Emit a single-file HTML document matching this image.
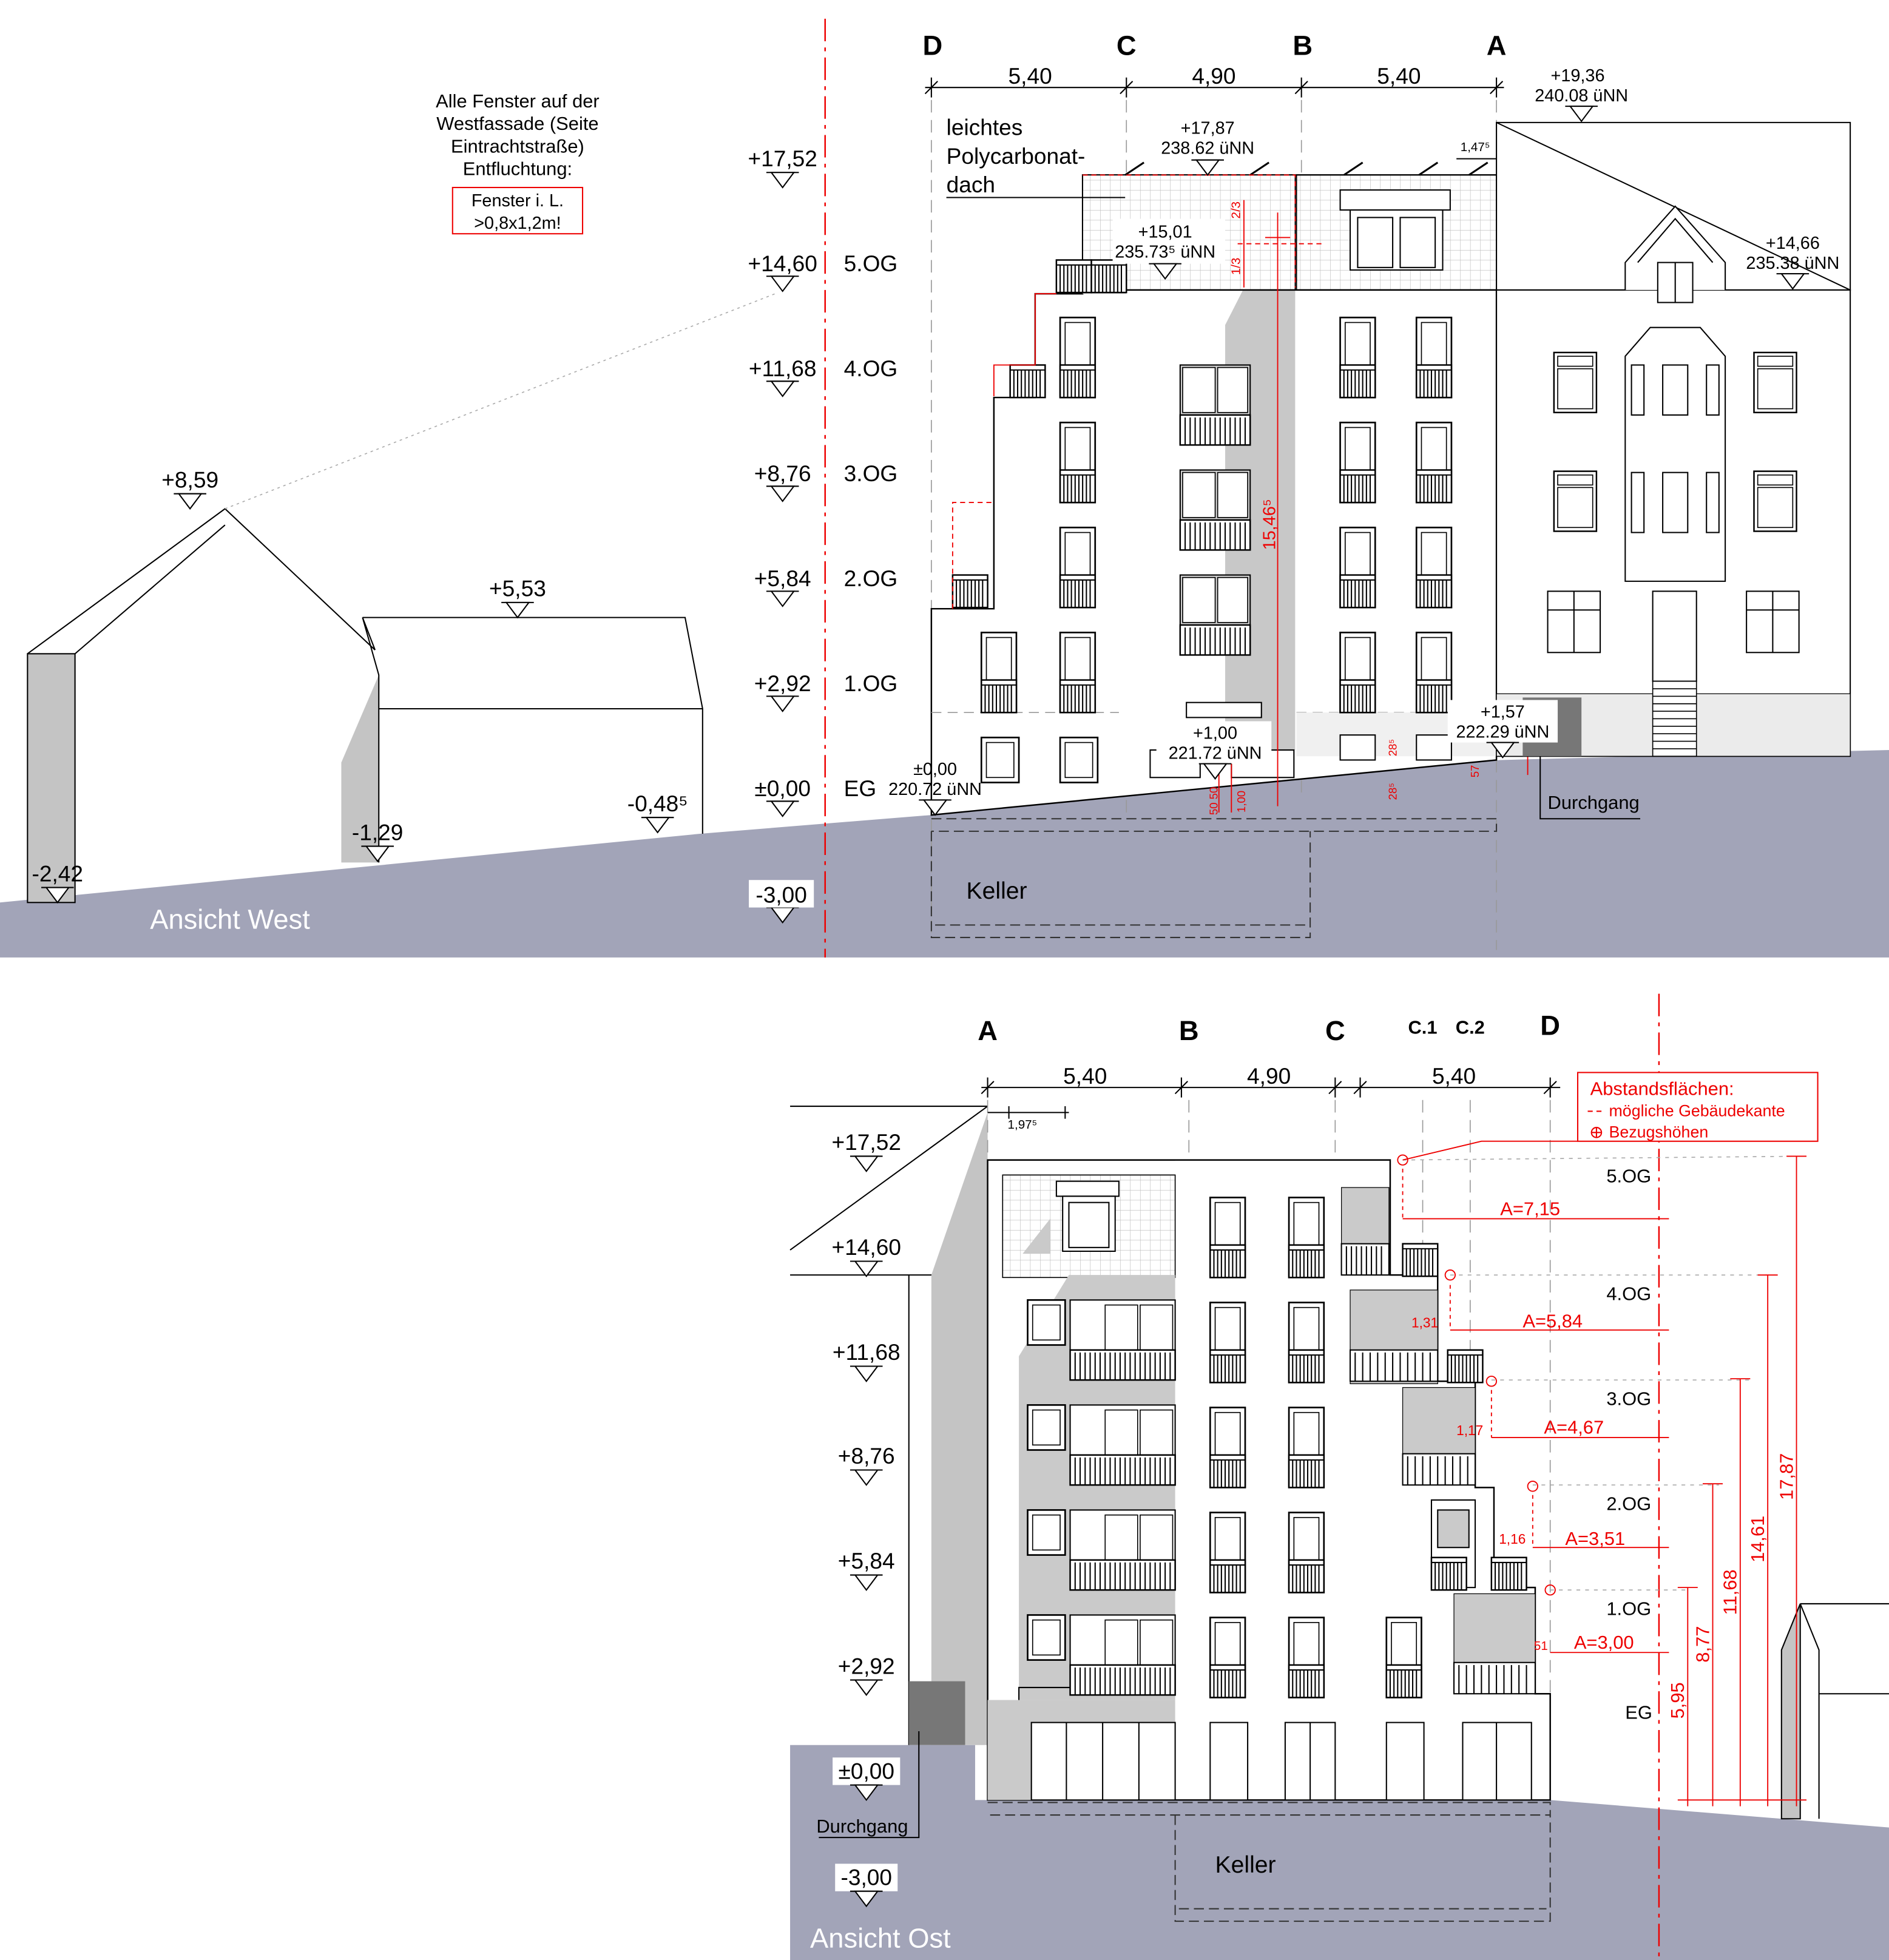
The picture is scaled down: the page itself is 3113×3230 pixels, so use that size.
<!DOCTYPE html>
<html><head><meta charset="utf-8"><style>
html,body{margin:0;padding:0;background:#fff}
svg{display:block}
text{font-family:"Liberation Sans",sans-serif}
</style></head><body>
<svg width="3113" height="3230" viewBox="0 0 1511 1568" preserveAspectRatio="none" xmlns="http://www.w3.org/2000/svg">
<defs>
<g id="lv"><line x1="-13" y1="0" x2="13" y2="0" stroke="#000" stroke-width="1"/><path d="M-9,0 L9,0 L0,12 Z" fill="#fff" stroke="#000" stroke-width="1"/></g>
<g id="rail"><rect x="0" y="0" width="28" height="26" fill="#fff" stroke="#000" stroke-width="1.2"/><path d="M3,4V26M6,4V26M9,4V26M12,4V26M15,4V26M18,4V26M21,4V26M24,4V26M0,4H28" stroke="#000" stroke-width="1"/></g>
<g id="win"><rect x="0" y="0" width="28" height="64" fill="#fff" stroke="#000" stroke-width="1.3"/><rect x="4" y="4" width="20" height="34" fill="#fff" stroke="#000" stroke-width="0.8"/><use href="#rail" y="38"/></g>
<g id="bal"><rect x="0" y="0" width="56" height="64" fill="#d0d0d0" stroke="#000" stroke-width="1"/><rect x="2" y="2" width="26" height="36" fill="#fff" stroke="#000" stroke-width="0.8"/><rect x="30" y="2" width="24" height="36" fill="#fff" stroke="#000" stroke-width="0.8"/><rect x="0" y="40" width="56" height="24" fill="#fff" stroke="#000" stroke-width="1.2"/><path d="M4,42V64M8,42V64M12,42V64M16,42V64M20,42V64M24,42V64M28,42V64M32,42V64M36,42V64M40,42V64M44,42V64M48,42V64M52,42V64" stroke="#000" stroke-width="1"/></g>
<g id="bal2"><rect x="0" y="0" width="84" height="64" fill="#fff" stroke="#000" stroke-width="1"/><rect x="28" y="4" width="26" height="36" fill="#fff" stroke="#000" stroke-width="0.8"/><rect x="56" y="4" width="26" height="36" fill="#fff" stroke="#000" stroke-width="0.8"/><rect x="0" y="40" width="84" height="24" fill="#fff" stroke="#000" stroke-width="1.2"/><path d="M4,42V64M8,42V64M12,42V64M16,42V64M20,42V64M24,42V64M28,42V64M32,42V64M36,42V64M40,42V64M44,42V64M48,42V64M52,42V64M56,42V64M60,42V64M64,42V64M68,42V64M72,42V64M76,42V64M80,42V64" stroke="#000" stroke-width="1"/></g>
<g id="sw"><rect x="0" y="0" width="30" height="36" fill="#fff" stroke="#000" stroke-width="1.3"/><rect x="4" y="4" width="22" height="28" fill="#fff" stroke="#000" stroke-width="0.8"/></g>
<g id="ow"><rect x="0" y="0" width="34" height="48" fill="#fff" stroke="#000" stroke-width="1.2"/><rect x="3" y="3" width="28" height="8" fill="none" stroke="#000" stroke-width="0.8"/><rect x="3" y="13" width="28" height="32" fill="none" stroke="#000" stroke-width="0.8"/></g>
<pattern id="grid" width="8" height="8" patternUnits="userSpaceOnUse"><rect width="8" height="8" fill="#fff"/><path d="M0,0H8M0,0V8" stroke="#bbb" stroke-width="0.6"/></pattern>
</defs>

<path d="M0,722 L560,667 L745,652 L1200,608 L1511,600 L1511,766 L0,766 Z" fill="#a2a4b8"/>
<rect x="22" y="523" width="38" height="199" fill="#c4c4c4" stroke="#000" stroke-width="1"/>
<path d="M22,523 L180,407 L300,520 M60,523 L180,420" fill="none" stroke="#000" stroke-width="1"/>
<line x1="180" y1="407" x2="620" y2="235" stroke="#aaa" stroke-width="0.8" stroke-dasharray="2,3"/>
<path d="M273,690 L273,610 L303,540 L303,690 Z" fill="#c4c4c4"/>
<path d="M290,494 L548,494 L562,567 L562,667 M290,494 L303,540 L303,690 M303,567 L562,567" fill="none" stroke="#000" stroke-width="1"/>
<path d="M290,494 L300,520" stroke="#000"/>
<use href="#lv" x="152" y="395"/><text x="152" y="390" font-size="18" text-anchor="middle">+8,59</text>
<use href="#lv" x="414" y="482"/><text x="414" y="477" font-size="18" text-anchor="middle">+5,53</text>
<use href="#lv" x="302" y="677"/><text x="302" y="672" font-size="18" text-anchor="middle">-1,29</text>
<use href="#lv" x="526" y="654"/><text x="526" y="649" font-size="18" text-anchor="middle">-0,48⁵</text>
<use href="#lv" x="46" y="710"/><text x="46" y="705" font-size="18" text-anchor="middle">-2,42</text>
<text x="120" y="743" font-size="22" fill="#fff">Ansicht West</text>
<text x="414" y="86" font-size="15" text-anchor="middle">Alle Fenster auf der</text>
<text x="414" y="104" font-size="15" text-anchor="middle">Westfassade (Seite</text>
<text x="414" y="122" font-size="15" text-anchor="middle">Eintrachtstraße)</text>
<text x="414" y="140" font-size="15" text-anchor="middle">Entfluchtung:</text>
<rect x="362" y="150" width="104" height="37" fill="none" stroke="#e00" stroke-width="1"/>
<text x="414" y="165" font-size="14" text-anchor="middle">Fenster i. L.</text>
<text x="414" y="183" font-size="14" text-anchor="middle">&gt;0,8x1,2m!</text>
<g font-size="18" text-anchor="middle">
<use href="#lv" x="626" y="138"/><text x="626" y="133">+17,52</text>
<use href="#lv" x="626" y="221"/><text x="626" y="217">+14,60</text>
<use href="#lv" x="626" y="305"/><text x="626" y="301">+11,68</text>
<use href="#lv" x="626" y="389"/><text x="626" y="385">+8,76</text>
<use href="#lv" x="626" y="473"/><text x="626" y="469">+5,84</text>
<use href="#lv" x="626" y="557"/><text x="626" y="553">+2,92</text>
<use href="#lv" x="626" y="641"/><text x="626" y="637">±0,00</text>
<use href="#lv" x="626" y="726"/><rect x="599" y="704" width="52" height="22" fill="#fff"/><text x="625" y="722">-3,00</text>
</g>
<g font-size="18">
<text x="675" y="217">5.OG</text><text x="675" y="301">4.OG</text><text x="675" y="385">3.OG</text>
<text x="675" y="469">2.OG</text><text x="675" y="553">1.OG</text><text x="675" y="637">EG</text>
</g>
<line x1="660" y1="15" x2="660" y2="766" stroke="#e00" stroke-width="1.2" stroke-dasharray="18,5,3,5"/>
<g font-size="22" font-weight="bold" text-anchor="middle">
<text x="746" y="44">D</text><text x="901" y="44">C</text><text x="1042" y="44">B</text><text x="1197" y="44">A</text></g>
<path d="M740,70 H1203" stroke="#000"/>
<path d="M745,62V78M901,62V78M1041,62V78M1197,62V78M740,75L750,65M896,75L906,65M1036,75L1046,65M1192,75L1202,65" stroke="#000"/>
<g font-size="18" text-anchor="middle"><text x="824" y="67">5,40</text><text x="971" y="67">4,90</text><text x="1119" y="67">5,40</text></g>
<g stroke="#999" stroke-dasharray="10,6" stroke-width="0.8"><line x1="745" y1="80" x2="745" y2="750"/><line x1="901" y1="80" x2="901" y2="650"/><line x1="1041" y1="80" x2="1041" y2="640"/><line x1="1197" y1="80" x2="1197" y2="760"/></g>
<path d="M745,652 V487 H795 V318 H828 V235 H866 V140 H1197 V608 L745,652 Z" fill="#fff" stroke="#000" stroke-width="1.2"/>
<path d="M901,140 L866,200 L866,235 L901,235 Z" fill="#c8c8c8"/>
<path d="M1036,150 L1036,600 L980,600 L980,260 Z" fill="#c8c8c8"/>
<rect x="1037" y="140" width="160" height="92" fill="url(#grid)" stroke="#000"/>
<rect x="866" y="140" width="170" height="92" fill="url(#grid)" stroke="#000" stroke-width="0.8"/>
<path d="M866,232 H1197" stroke="#000" stroke-width="1.2"/>
<rect x="1072" y="152" width="88" height="16" fill="#fff" stroke="#000"/>
<rect x="1080" y="168" width="74" height="48" fill="#fff" stroke="#000"/><rect x="1086" y="174" width="28" height="40" fill="none" stroke="#000"/><rect x="1120" y="174" width="28" height="40" fill="none" stroke="#000"/>
<path d="M1075,140L1090,130M1135,140L1150,130M1175,140L1190,130M900,140L915,130M1000,140L1015,130" stroke="#000" stroke-width="1.5"/>
<g stroke="#999" stroke-dasharray="8,5" stroke-width="0.8"><line x1="745" y1="570" x2="895" y2="570"/><line x1="1037" y1="570" x2="1197" y2="570"/></g>
<rect x="1037" y="570" width="160" height="35" fill="#f0f0f0"/>
<use href="#rail" x="845" y="208"/><use href="#rail" x="873" y="208"/>
<use href="#rail" x="808" y="292"/>
<use href="#rail" x="762" y="460"/>
<use href="#win" x="848" y="254"/><use href="#win" x="848" y="338"/><use href="#win" x="848" y="422"/><use href="#win" x="848" y="506"/>
<use href="#win" x="785" y="506"/>
<use href="#sw" x="785" y="590"/><use href="#sw" x="848" y="590"/>
<use href="#bal" x="944" y="292"/><use href="#bal" x="944" y="376"/><use href="#bal" x="944" y="460"/>
<rect x="949" y="562" width="60" height="12" fill="#fff" stroke="#000"/>
<rect x="920" y="600" width="40" height="22" fill="#fff" stroke="#000"/><rect x="985" y="600" width="50" height="22" fill="#fff" stroke="#000"/>
<use href="#win" x="1072" y="254"/><use href="#win" x="1133" y="254"/>
<use href="#win" x="1072" y="338"/><use href="#win" x="1133" y="338"/>
<use href="#win" x="1072" y="422"/><use href="#win" x="1133" y="422"/>
<use href="#win" x="1072" y="506"/><use href="#win" x="1133" y="506"/>
<rect x="1072" y="588" width="28" height="20" fill="#fff" stroke="#000"/><rect x="1133" y="588" width="28" height="20" fill="#fff" stroke="#000"/>
<g stroke="#e00" fill="none" stroke-width="0.9">
<path d="M795,317 V292 L828,292 V235 L845,235"/>
<path d="M866,140 H1036 V230" stroke-dasharray="4,3"/>
<path d="M762,487 V402 H795" stroke-dasharray="4,3"/>
<line x1="1022" y1="170" x2="1022" y2="645"/><line x1="1222" y1="190" x2="1222" y2="620"/>
<line x1="1012" y1="190" x2="1032" y2="190"/><line x1="1212" y1="190" x2="1232" y2="190"/>
<line x1="995" y1="160" x2="995" y2="230"/><line x1="1250" y1="160" x2="1250" y2="230"/>
<line x1="990" y1="195" x2="1060" y2="195" stroke-dasharray="4,3"/><line x1="1230" y1="195" x2="1270" y2="195" stroke-dasharray="4,3"/>
<line x1="985" y1="610" x2="985" y2="650"/><line x1="975" y1="610" x2="975" y2="650"/>
</g>
<g fill="#e00" font-size="14">
<text transform="translate(1020,440) rotate(-90)">15,46⁵</text>
<text transform="translate(1218,425) rotate(-90)">14,68</text>
<text transform="translate(992,175) rotate(-90)" font-size="10">2/3</text>
<text transform="translate(992,220) rotate(-90)" font-size="10">1/3</text>
<text transform="translate(1246,175) rotate(-90)" font-size="10">2/3</text>
<text transform="translate(1246,220) rotate(-90)" font-size="10">1/3</text>
<text transform="translate(974,652) rotate(-90)" font-size="9">50 50</text>
<text transform="translate(996,650) rotate(-90)" font-size="9">1,00</text>
<text transform="translate(1117,640) rotate(-90)" font-size="9">28⁵</text>
<text transform="translate(1117,605) rotate(-90)" font-size="9">28⁵</text>
<text transform="translate(1183,622) rotate(-90)" font-size="9">57</text>
</g>
<g font-size="18"><text x="757" y="108">leichtes</text><text x="757" y="131">Polycarbonat-</text><text x="757" y="154">dach</text></g>
<line x1="757" y1="158" x2="900" y2="158" stroke="#000"/>
<g font-size="14" text-anchor="middle">
<text x="966" y="107">+17,87</text><text x="966" y="123">238.62 üNN</text><use href="#lv" x="966" y="128"/>
<rect x="890" y="175" width="90" height="36" fill="#fff"/><text x="932" y="190">+15,01</text><text x="932" y="206">235.73⁵ üNN</text><use href="#lv" x="932" y="211"/>
<rect x="925" y="577" width="92" height="34" fill="#fff"/><text x="972" y="591">+1,00</text><text x="972" y="607">221.72 üNN</text><use href="#lv" x="972" y="611"/>
<text x="748" y="620">±0,00</text><text x="748" y="636">220.72 üNN</text><use href="#lv" x="748" y="640"/>
<text x="1262" y="65">+19,36</text><text x="1265" y="81">240.08 üNN</text><use href="#lv" x="1265" y="85"/>
<text x="1180" y="121" font-size="10">1,47⁵</text>
</g>
<path d="M1165,127 H1200" stroke="#000"/>
<path d="M1197,98 H1480 V232 H1197 Z" fill="#fff" stroke="#000"/>
<path d="M1197,98 L1480,232" stroke="#000"/>
<rect x="1197" y="232" width="283" height="373" fill="#fff" stroke="#000"/>
<rect x="1197" y="555" width="283" height="50" fill="#ebebeb" stroke="#000" stroke-width="0.6"/>
<rect x="1218" y="558" width="47" height="47" fill="#777"/>
<path d="M1300,232 V210 L1340,165 L1380,210 V232 M1310,210 L1340,175 L1370,210" fill="#fff" stroke="#000"/>
<rect x="1326" y="210" width="28" height="32" fill="#fff" stroke="#000"/><line x1="1340" y1="210" x2="1340" y2="242" stroke="#000"/>
<path d="M1300,285 L1320,262 H1360 L1380,285 V465 H1300 Z" fill="#fff" stroke="#000"/>
<rect x="1305" y="292" width="10" height="40" fill="none" stroke="#000"/><rect x="1330" y="292" width="20" height="40" fill="none" stroke="#000"/><rect x="1365" y="292" width="10" height="40" fill="none" stroke="#000"/>
<rect x="1305" y="378" width="10" height="48" fill="none" stroke="#000"/><rect x="1330" y="378" width="20" height="48" fill="none" stroke="#000"/><rect x="1365" y="378" width="10" height="48" fill="none" stroke="#000"/>
<use href="#ow" x="1243" y="282"/><use href="#ow" x="1403" y="282"/><use href="#ow" x="1243" y="377"/><use href="#ow" x="1403" y="377"/>
<rect x="1238" y="473" width="42" height="49" fill="#fff" stroke="#000"/><path d="M1259,473V522M1238,488H1280" stroke="#000"/>
<rect x="1397" y="473" width="42" height="49" fill="#fff" stroke="#000"/><path d="M1418,473V522M1397,488H1439" stroke="#000"/>
<rect x="1322" y="473" width="35" height="72" fill="#fff" stroke="#000"/>
<g stroke="#000" stroke-width="0.8"><rect x="1322" y="545" width="35" height="60" fill="#fff"/><path d="M1322,551H1357M1322,557H1357M1322,563H1357M1322,569H1357M1322,575H1357M1322,581H1357M1322,587H1357M1322,593H1357M1322,599H1357"/></g>
<path d="M1232,605 V655 H1312" fill="none" stroke="#000"/>
<text x="1238" y="647" font-size="15">Durchgang</text>
<g font-size="14" text-anchor="middle">
<text x="1434" y="199">+14,66</text><text x="1434" y="215">235.38 üNN</text><use href="#lv" x="1434" y="219"/>
<rect x="1158" y="560" width="88" height="34" fill="#fff"/><text x="1202" y="574">+1,57</text><text x="1202" y="590">222.29 üNN</text><use href="#lv" x="1202" y="594"/>
</g>
<g fill="none" stroke="#333" stroke-dasharray="8,4" stroke-width="1">
<path d="M745,655 H1197 V665 H745"/><path d="M745,665 V750 H1048 V665"/><path d="M748,740 H1045"/></g>
<text x="773" y="719" font-size="19">Keller</text>

<path d="M632,1396 H780 V1440 L1240,1440 L1511,1462 V1568 H632 Z" fill="#a2a4b8"/>
<path d="M632,885 H790 M632,1000 L790,885 M632,1020 H790 M727,1020 V1396" fill="none" stroke="#000"/>
<path d="M745,1396 V1020 L790,890 V1396 Z" fill="#c4c4c4"/>
<rect x="727" y="1345" width="45" height="51" fill="#777"/>
<path d="M735,1385 V1470 H655" fill="none" stroke="#000"/>
<text x="653" y="1466" font-size="15">Durchgang</text>
<text x="648" y="1558" font-size="22" fill="#fff">Ansicht Ost</text>
<g font-size="18" text-anchor="middle">
<use href="#lv" x="693" y="925"/><text x="693" y="920">+17,52</text>
<use href="#lv" x="693" y="1009"/><text x="693" y="1004">+14,60</text>
<use href="#lv" x="693" y="1093"/><text x="693" y="1088">+11,68</text>
<use href="#lv" x="693" y="1176"/><text x="693" y="1171">+8,76</text>
<use href="#lv" x="693" y="1260"/><text x="693" y="1255">+5,84</text>
<use href="#lv" x="693" y="1344"/><text x="693" y="1339">+2,92</text>
<rect x="666" y="1406" width="54" height="22" fill="#fff"/><use href="#lv" x="693" y="1428"/><text x="693" y="1423">±0,00</text>
<rect x="668" y="1491" width="50" height="22" fill="#fff"/><use href="#lv" x="693" y="1513"/><text x="693" y="1508">-3,00</text>
</g>
<g font-size="22" font-weight="bold" text-anchor="middle">
<text x="790" y="832">A</text><text x="951" y="832">B</text><text x="1068" y="832">C</text><text x="1240" y="828">D</text>
<text x="1138" y="827" font-size="15">C.1</text><text x="1176" y="827" font-size="15">C.2</text></g>
<path d="M785,870 H1248" stroke="#000"/>
<path d="M790,862V878M945,862V878M1068,862V878M1088,862V878M1240,862V878M785,875L795,865M940,875L950,865M1063,875L1073,865M1083,875L1093,865M1235,875L1245,865" stroke="#000"/>
<g font-size="18" text-anchor="middle"><text x="868" y="867">5,40</text><text x="1015" y="867">4,90</text><text x="1163" y="867">5,40</text></g>
<g stroke="#999" stroke-dasharray="10,6" stroke-width="0.8"><line x1="790" y1="880" x2="790" y2="1440"/><line x1="951" y1="880" x2="951" y2="1440"/><line x1="1068" y1="880" x2="1068" y2="1440"/><line x1="1138" y1="880" x2="1138" y2="1440"/><line x1="1176" y1="880" x2="1176" y2="1440"/><line x1="1240" y1="880" x2="1240" y2="1440"/></g>
<path d="M790,890 H855 M807,885V895M852,885V895" stroke="#000"/><text x="806" y="903" font-size="10">1,97⁵</text>
<path d="M790,1440 V928 H1112 V1020 H1150 V1105 H1180 V1190 H1195 V1270 H1228 V1355 H1240 V1440 Z" fill="#fff" stroke="#000" stroke-width="1.2"/>
<rect x="802" y="940" width="138" height="82" fill="url(#grid)" stroke="#000" stroke-width="0.8"/>
<path d="M790,928 H940" stroke="#000"/>
<path d="M815,1085 L855,1020 H940 V1360 H815 Z" fill="#cacaca"/>
<rect x="845" y="945" width="50" height="12" fill="#fff" stroke="#000"/>
<rect x="850" y="957" width="42" height="44" fill="#fff" stroke="#000"/><rect x="855" y="962" width="32" height="36" fill="#fff" stroke="#000"/>
<path d="M818,1003 L840,975 V1003 Z" fill="#cacaca"/>
<rect x="790" y="1360" width="150" height="80" fill="#cacaca"/>
<path d="M815,1360 V1350 H940" stroke="#000" fill="none"/>
<use href="#bal2" x="856" y="1040"/><use href="#bal2" x="856" y="1124"/><use href="#bal2" x="856" y="1208"/><use href="#bal2" x="856" y="1292"/>
<use href="#sw" x="822" y="1040"/><use href="#sw" x="822" y="1124"/><use href="#sw" x="822" y="1208"/><use href="#sw" x="822" y="1292"/>
<g fill="#fff" stroke="#000"><rect x="825" y="1378" width="115" height="62"/><path d="M853,1378V1440M882,1378V1440M911,1378V1440"/></g>
<use href="#win" x="968" y="958"/><use href="#win" x="1031" y="958"/>
<use href="#win" x="968" y="1042"/><use href="#win" x="1031" y="1042"/>
<use href="#win" x="968" y="1126"/><use href="#win" x="1031" y="1126"/>
<use href="#win" x="968" y="1210"/><use href="#win" x="1031" y="1210"/>
<use href="#win" x="968" y="1294"/><use href="#win" x="1031" y="1294"/>
<rect x="968" y="1378" width="30" height="62" fill="#fff" stroke="#000"/><rect x="1028" y="1378" width="40" height="62" fill="#fff" stroke="#000"/><line x1="1048" y1="1378" x2="1048" y2="1440" stroke="#000"/>
<rect x="1073" y="950" width="38" height="45" fill="#cacaca" stroke="#000" stroke-width="0.6"/>
<rect x="1073" y="995" width="38" height="25" fill="#fff" stroke="#000"/><path d="M1077,997V1020M1081,997V1020M1085,997V1020M1089,997V1020M1093,997V1020M1097,997V1020M1101,997V1020M1105,997V1020" stroke="#000"/>
<use href="#rail" x="1122" y="995"/>
<rect x="1080" y="1032" width="70" height="75" fill="#cacaca" stroke="#000" stroke-width="0.6"/>
<rect x="1080" y="1080" width="70" height="25" fill="#fff" stroke="#000"/><path d="M1084,1082V1105M1090,1082V1105M1096,1082V1105M1102,1082V1105M1108,1082V1105M1114,1082V1105M1120,1082V1105M1126,1082V1105M1132,1082V1105M1138,1082V1105M1144,1082V1105" stroke="#000"/>
<use href="#rail" x="1158" y="1080"/>
<rect x="1122" y="1110" width="58" height="78" fill="#cacaca" stroke="#000" stroke-width="0.6"/>
<rect x="1122" y="1163" width="58" height="25" fill="#fff" stroke="#000"/><path d="M1126,1165V1188M1132,1165V1188M1138,1165V1188M1144,1165V1188M1150,1165V1188M1156,1165V1188M1162,1165V1188M1168,1165V1188M1174,1165V1188" stroke="#000"/>
<rect x="1145" y="1200" width="35" height="70" fill="#fff" stroke="#000"/><rect x="1150" y="1208" width="25" height="30" fill="#cacaca" stroke="#000"/>
<use href="#rail" x="1145" y="1246"/><use href="#rail" x="1193" y="1246"/>
<rect x="1163" y="1275" width="65" height="80" fill="#cacaca" stroke="#000" stroke-width="0.6"/>
<rect x="1163" y="1330" width="65" height="25" fill="#fff" stroke="#000"/><path d="M1167,1332V1355M1173,1332V1355M1179,1332V1355M1185,1332V1355M1191,1332V1355M1197,1332V1355M1203,1332V1355M1209,1332V1355M1215,1332V1355M1221,1332V1355" stroke="#000"/>
<use href="#win" x="1109" y="1294"/>
<rect x="1109" y="1378" width="30" height="62" fill="#fff" stroke="#000"/>
<rect x="1170" y="1378" width="55" height="62" fill="#fff" stroke="#000"/><line x1="1197" y1="1378" x2="1197" y2="1440" stroke="#000"/>
<g fill="none" stroke="#333" stroke-dasharray="8,4" stroke-width="1">
<path d="M790,1442 H1240 V1452 H790"/><path d="M940,1452 V1537 H1240 V1452"/><path d="M943,1527 H1237"/></g>
<text x="972" y="1498" font-size="19">Keller</text>
<path d="M1425,1455 V1320 L1440,1283 V1455 Z" fill="#c4c4c4" stroke="#000"/>
<path d="M1440,1283 H1511 M1440,1283 L1455,1320 V1455 M1455,1355 H1511" fill="none" stroke="#000"/>
<line x1="1327" y1="795" x2="1327" y2="1568" stroke="#e00" stroke-width="1.2" stroke-dasharray="18,5,3,5"/>
<g stroke="#aaa" stroke-dasharray="3,4" stroke-width="0.8">
<line x1="1122" y1="928" x2="1440" y2="925"/><line x1="1160" y1="1020" x2="1420" y2="1020"/><line x1="1193" y1="1104" x2="1400" y2="1104"/><line x1="1226" y1="1188" x2="1375" y2="1188"/><line x1="1240" y1="1272" x2="1350" y2="1272"/></g>
<g stroke="#e00" fill="none" stroke-width="0.9">
<line x1="1350" y1="1270" x2="1350" y2="1445"/><line x1="1370" y1="1187" x2="1370" y2="1445"/><line x1="1392" y1="1103" x2="1392" y2="1445"/><line x1="1414" y1="1020" x2="1414" y2="1445"/><line x1="1437" y1="925" x2="1437" y2="1445"/>
<path d="M1342,1270H1358M1362,1187H1378M1384,1103H1400M1406,1020H1422M1429,925H1445M1342,1440H1445"/>
<line x1="1122" y1="975" x2="1335" y2="975"/><line x1="1160" y1="1064" x2="1335" y2="1064"/><line x1="1193" y1="1150" x2="1335" y2="1150"/><line x1="1226" y1="1238" x2="1335" y2="1238"/><line x1="1240" y1="1322" x2="1335" y2="1322"/>
<circle cx="1122" cy="928" r="4"/><circle cx="1160" cy="1020" r="4"/><circle cx="1193" cy="1105" r="4"/><circle cx="1226" cy="1189" r="4"/><circle cx="1240" cy="1272" r="4"/>
<path d="M1122,928 L1185,913 H1262"/>
<path d="M1122,935V975M1160,1028V1064M1193,1112V1150M1226,1196V1238" stroke-dasharray="3,3"/>
</g>
<g fill="#e00" font-size="15">
<text x="1200" y="972">A=7,15</text><text x="1218" y="1062">A=5,84</text><text x="1235" y="1147">A=4,67</text><text x="1252" y="1236">A=3,51</text><text x="1259" y="1319">A=3,00</text>
<text x="1129" y="1062" font-size="11">1,31</text><text x="1165" y="1148" font-size="11">1,17</text><text x="1199" y="1235" font-size="11">1,16</text><text x="1227" y="1320" font-size="10">51</text>
<text transform="translate(1347,1375) rotate(-90)">5,95</text>
<text transform="translate(1367,1330) rotate(-90)">8,77</text>
<text transform="translate(1389,1292) rotate(-90)">11,68</text>
<text transform="translate(1411,1250) rotate(-90)">14,61</text>
<text transform="translate(1434,1200) rotate(-90)">17,87</text>
</g>
<g font-size="15"><text x="1285" y="946">5.OG</text><text x="1285" y="1040">4.OG</text><text x="1285" y="1124">3.OG</text><text x="1285" y="1208">2.OG</text><text x="1285" y="1292">1.OG</text><text x="1300" y="1375">EG</text></g>
<rect x="1262" y="858" width="192" height="55" fill="#fff" stroke="#e00"/>
<g fill="#e00"><text x="1272" y="876" font-size="15">Abstandsflächen:</text>
<text x="1287" y="893" font-size="13">mögliche Gebäudekante</text><text x="1287" y="910" font-size="13">Bezugshöhen</text></g>
<line x1="1270" y1="889" x2="1282" y2="889" stroke="#e00" stroke-dasharray="4,3"/>
<circle cx="1277" cy="906" r="4" fill="none" stroke="#e00"/><path d="M1273,906H1281M1277,902V910" stroke="#e00"/>
</svg>
</body></html>
